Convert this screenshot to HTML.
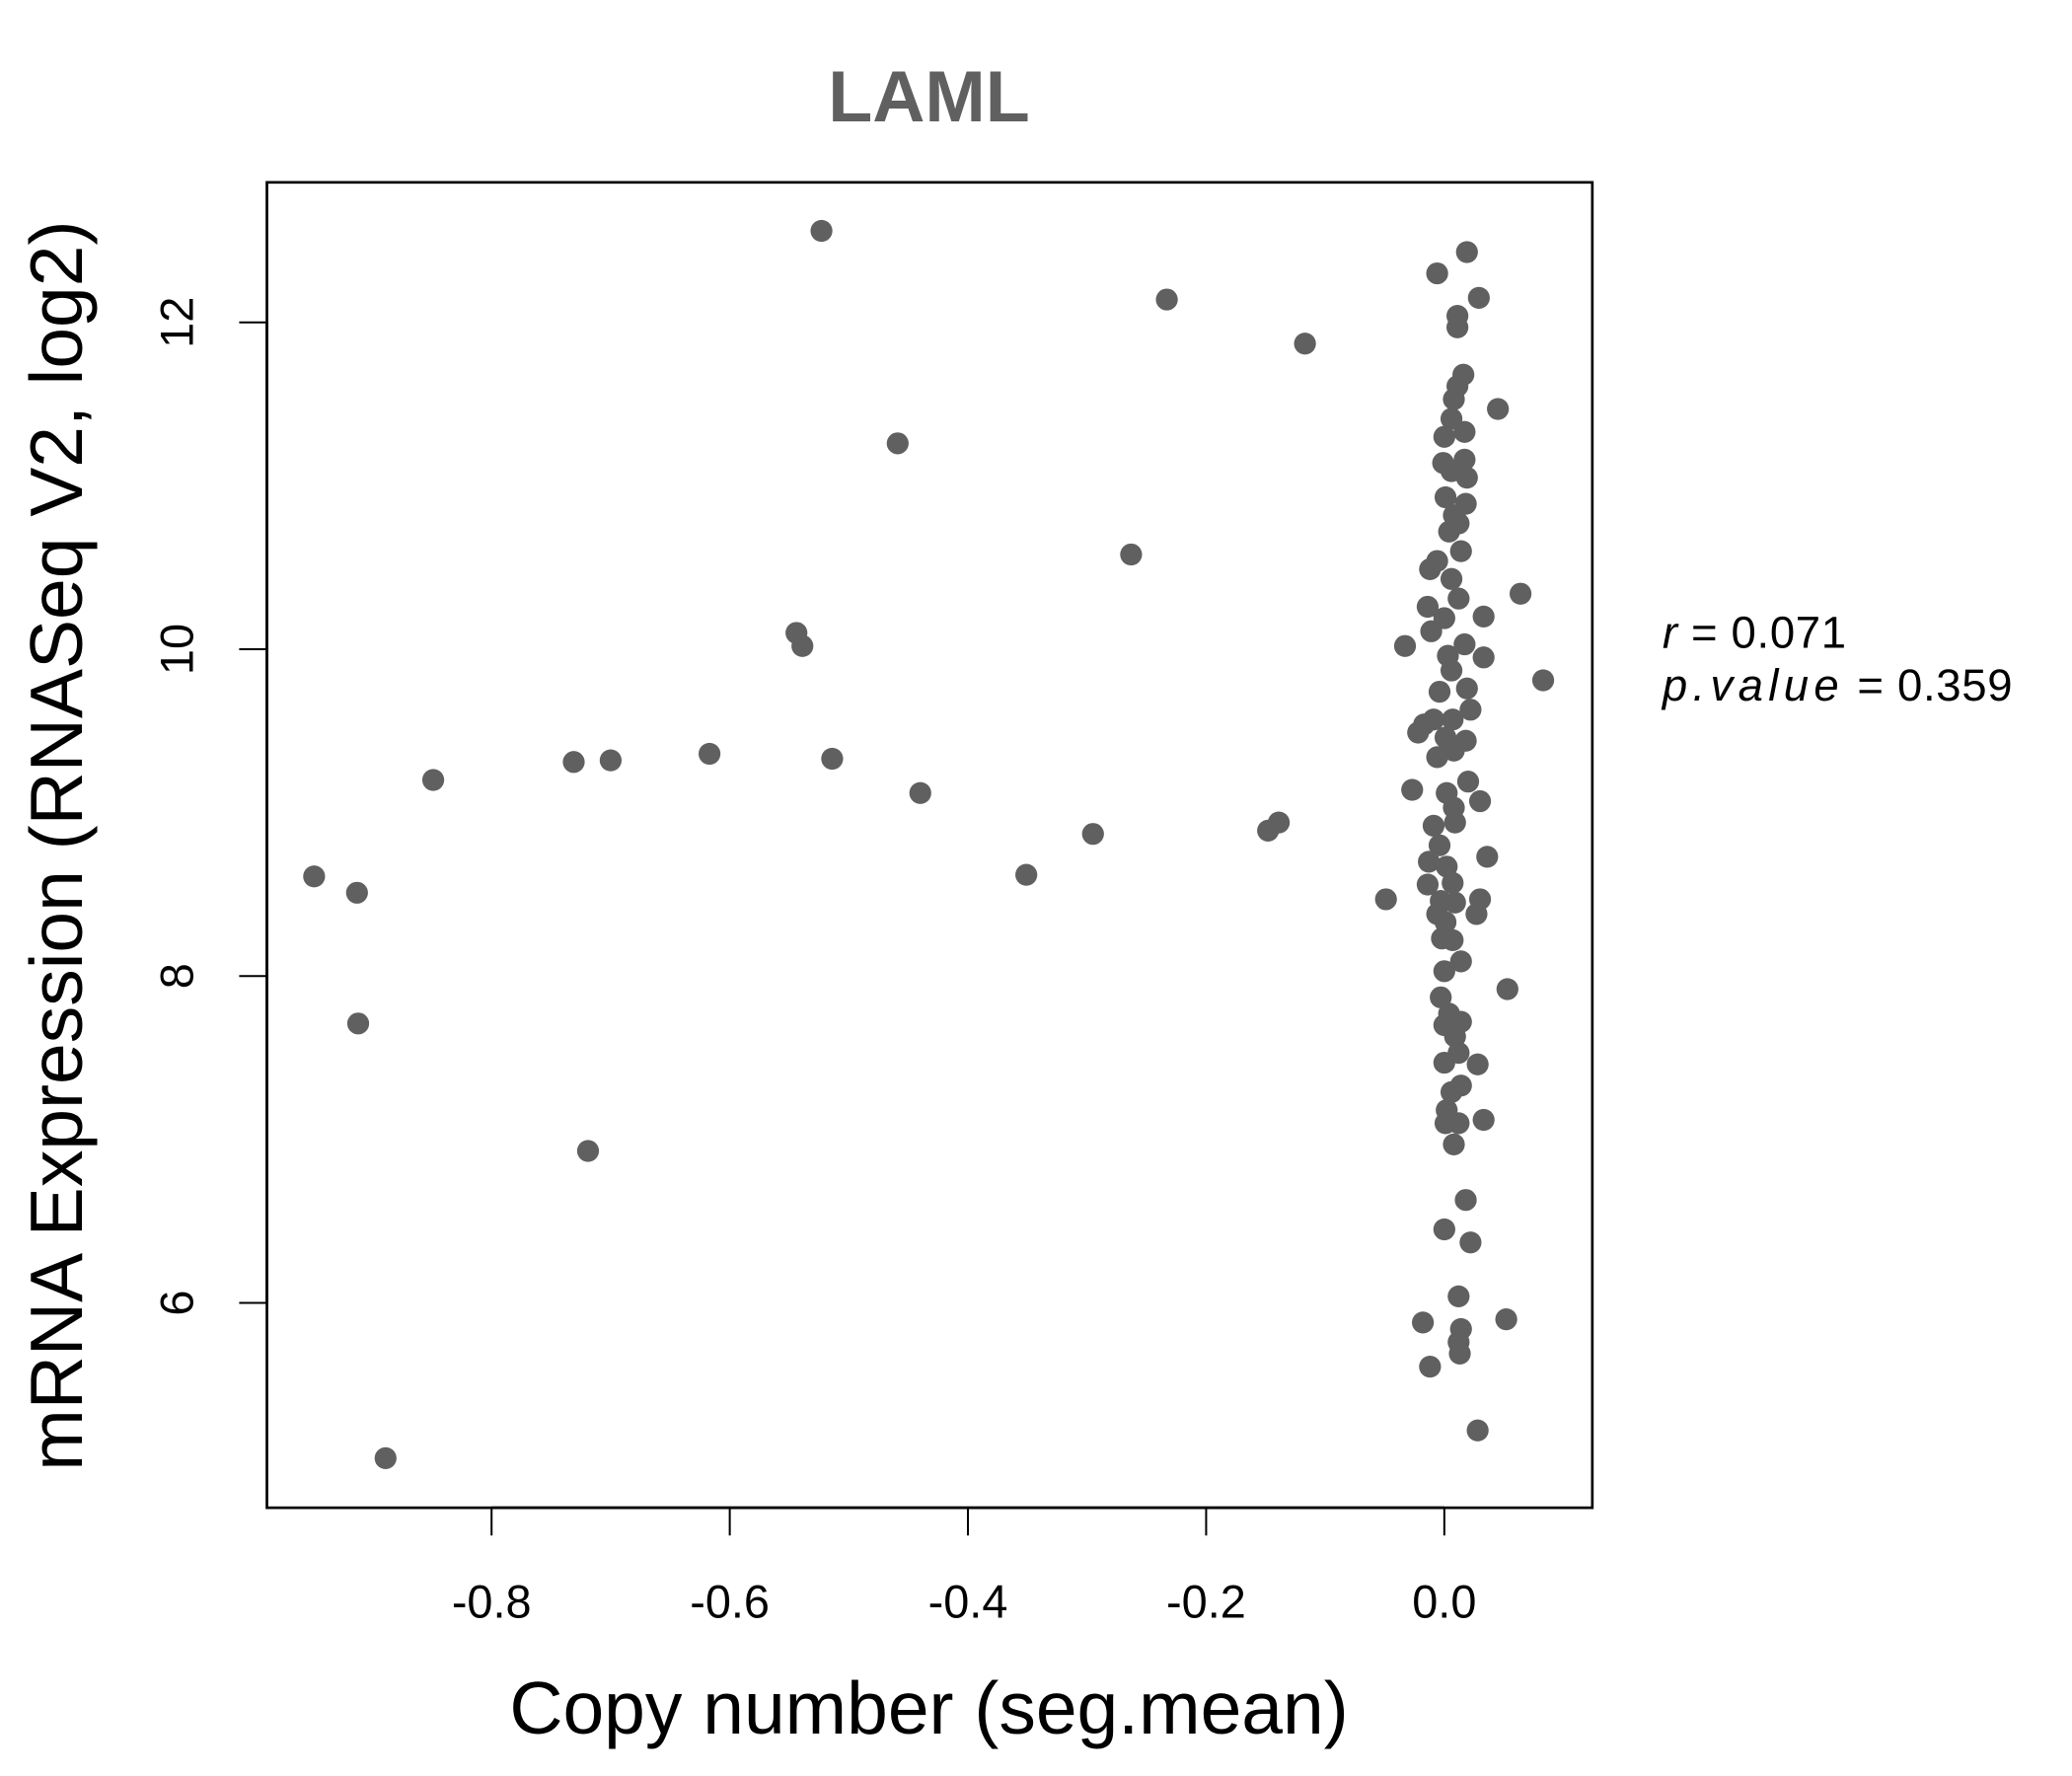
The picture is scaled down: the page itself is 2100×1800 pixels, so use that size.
<!DOCTYPE html>
<html><head><meta charset="utf-8"><style>
html,body{margin:0;padding:0;background:#fff}
svg{display:block}
text{font-family:"Liberation Sans",Arial,sans-serif}
</style></head><body>
<svg id="chart" width="2100" height="1800" viewBox="0 0 1568 1344" preserveAspectRatio="none" xmlns="http://www.w3.org/2000/svg">
<text x="703" y="92" text-anchor="middle" font-size="55" font-weight="bold" fill="#606060">LAML</text>
<rect x="202" y="138" width="1003" height="1003" fill="none" stroke="#000" stroke-width="2"/>
<g id="xaxis"></g>
<g id="yaxis"></g>
<g id="points"></g>
<text x="703" y="1312" text-anchor="middle" font-size="56">Copy number (seg.mean)</text>
<text transform="translate(62,640) rotate(-90)" text-anchor="middle" font-size="56">mRNA Expression (RNASeq V2, log2)</text>
<text x="1258" y="490" font-size="34" letter-spacing="0.5"><tspan font-style="italic">r</tspan> = 0.071</text>
<text x="1258" y="530" font-size="34" letter-spacing="0.5"><tspan font-style="italic" letter-spacing="4">p.value</tspan> = 0.359</text>
</svg>
<script>
const xTicks = [-0.8, -0.6, -0.4, -0.2, 0.0];
const xTickLabels = ["-0.8", "-0.6", "-0.4", "-0.2", "0.0"];
const yTicks = [6, 8, 10, 12];
const yTickLabels = ["6", "8", "10", "12"];
const copyNumber = [-0.949,-0.913,-0.912,-0.889,-0.849,-0.731,-0.719,-0.700,-0.617,-0.544,-0.539,-0.523,-0.514,-0.459,-0.440,-0.351,-0.295,-0.263,-0.233,-0.148,-0.139,-0.117,-0.049,-0.033,0.083,0.064,0.045,0.053,0.052,0.036,0.033,0.028,-0.018,-0.012,0.012,0.014,
0.019,-0.006,0.029,0.011,0.011,0.016,0.011,0.008,0.006,0.017,0.000,-0.001,0.017,0.006,0.019,0.001,0.018,0.008,0.012,0.004,0.014,-0.006,-0.012,0.006,0.012,-0.014,0.000,-0.011,0.017,0.003,0.033,0.033,0.006,0.019,-0.004,0.022,0.007,-0.017,-0.022,0.001,0.018,-0.006,0.008,0.020,0.002,0.030,-0.027,0.008,-0.009,0.009,-0.004,-0.013,0.002,0.007,-0.014,-0.003,0.009,0.030,-0.006,0.027,0.001,0.007,0.014,0.000,-0.003,0.004,0.014,0.000,0.009,0.012,0.000,0.028,0.006,0.014,0.001,0.012,0.008,0.018,0.000,0.022,0.012,0.013,0.002,-0.002,-0.009];
const expression = [8.61,8.51,7.71,5.05,9.20,9.31,6.93,9.32,9.36,10.10,10.02,12.56,9.33,11.26,9.12,8.62,8.87,10.58,12.14,8.89,8.94,11.87,8.47,10.02,9.81,10.34,11.47,7.92,5.90,8.73,7.12,5.22,5.88,5.61,6.04,5.84,
12.43,12.30,12.15,12.04,11.97,11.68,11.61,11.53,11.41,11.33,11.30,11.14,11.16,11.09,11.05,10.93,10.89,10.82,10.77,10.72,10.60,10.54,10.49,10.43,10.31,10.26,10.19,10.11,10.03,9.96,10.20,9.95,9.87,9.76,9.74,9.63,9.57,9.54,9.49,9.46,9.44,9.34,9.38,9.19,9.12,9.07,9.14,9.03,8.92,8.94,8.80,8.70,8.67,8.57,8.56,8.46,8.45,8.47,8.38,8.38,8.33,8.22,8.09,8.03,7.87,7.77,7.72,7.70,7.63,7.53,7.47,7.46,7.29,7.33,7.10,7.10,6.97,6.63,6.45,6.37,5.76,5.69,7.18,8.23,9.57];
const NS = "http://www.w3.org/2000/svg";
function xs(v){ return 1093 + v * 901.25; }
function ys(v){ return 986 - (v - 6) * 123.67; }
function mk(tag, attrs, parent){ const e = document.createElementNS(NS, tag); for (const k in attrs) e.setAttribute(k, attrs[k]); parent.appendChild(e); return e; }
const xa = document.getElementById('xaxis');
mk('line', {x1: xs(xTicks[0]), x2: xs(xTicks[xTicks.length-1]), y1: 1141, y2: 1141, stroke: '#000', 'stroke-width': 2}, xa);
xTicks.forEach((t, i) => {
  const l = mk('line', {x1: xs(t), x2: xs(t), y1: 1141, y2: 1162, stroke: '#000', 'stroke-width': 1.5}, xa);
  
  
  const tx = mk('text', {x: xs(t), y: 1224, 'text-anchor': 'middle', 'font-size': 35}, xa);
  tx.textContent = xTickLabels[i];
  
  
});
const ya = document.getElementById('yaxis');
mk('line', {x1: 202, x2: 202, y1: ys(yTicks[0]), y2: ys(yTicks[yTicks.length-1]), stroke: '#000', 'stroke-width': 2}, ya);
yTicks.forEach((t, i) => {
  const l = mk('line', {x1: 181, x2: 202, y1: ys(t), y2: ys(t), stroke: '#000', 'stroke-width': 1.5}, ya);
  
  
  const tx = mk('text', {transform: 'translate(146,' + ys(t) + ') rotate(-90)', 'text-anchor': 'middle', 'font-size': 35}, ya);
  tx.textContent = yTickLabels[i];
  
  
});
const pg = document.getElementById('points');
for (let i = 0; i < copyNumber.length; i++) {
  const c = mk('circle', {cx: xs(copyNumber[i]), cy: ys(expression[i]), r: 8.3, fill: '#606060'}, pg);
  
  
}
</script>
</body></html>
